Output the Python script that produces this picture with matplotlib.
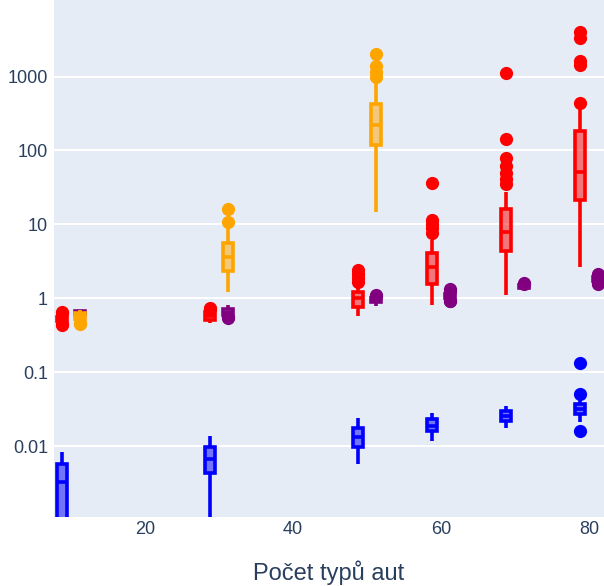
import numpy as np
import matplotlib
matplotlib.use('Agg')
import matplotlib.pyplot as plt
from matplotlib.colors import to_rgba

# skupiny na ose x (pocet typu aut)
skupiny = [10, 30, 50, 60, 70, 80]

# statistiky boxu: (whislo, q1, med, q3, whishi, fliers)
modra = [
    (0.0002, 0.0008, 0.00326, 0.0057, 0.0083, []),
    (0.0005, 0.0043, 0.0067, 0.0097, 0.0137, []),
    (0.0058, 0.0098, 0.0131, 0.0175, 0.0242, []),
    (0.0117, 0.016, 0.0187, 0.0232, 0.0282, []),
    (0.0174, 0.0218, 0.0255, 0.0298, 0.0351, []),
    (0.0213, 0.0271, 0.0314, 0.037, 0.0419, [0.1315, 0.050, 0.0161]),
]
cervena = [
    (0.47, 0.50, 0.53, 0.56, 0.60, [0.66, 0.63, 0.45, 0.43]),
    (0.457, 0.507, 0.575, 0.656, 0.70, [0.72, 0.74]),
    (0.574, 0.76, 1.02, 1.21, 1.45, [2.41, 2.15, 1.9, 1.66]),
    (0.81, 1.56, 2.67, 4.09, 6.1, [35.9, 11.4, 10.0, 8.8, 7.7]),
    (1.1, 4.35, 7.9, 16.1, 27.4, [1105, 141, 78, 62, 50, 41, 35]),
    (2.67, 21.3, 51.5, 183, 375, [4040, 3290, 1600, 1420, 434]),
]
oranzova = [
    (0.49, 0.52, 0.57, 0.63, 0.70, [0.46, 0.45]),
    (1.22, 2.34, 3.65, 5.59, 9.2, [16.1, 10.7]),
    (14.8, 118, 221, 425, 850, [2020, 1390, 1150, 1000]),
]
fialova = [
    (0.58, 0.61, 0.64, 0.67, 0.68, []),
    (0.574, 0.60, 0.63, 0.714, 0.81, [0.56, 0.545]),
    (0.78, 0.88, 0.95, 1.0, 1.03, [1.12, 1.07]),
    (0.95, 1.0, 1.08, 1.15, 1.2, [1.32, 1.25, 0.93, 0.91]),
    (1.28, 1.36, 1.42, 1.5, 1.55, [1.62, 1.58]),
    (1.66, 1.72, 1.82, 1.95, 2.02, [2.15, 2.05, 1.62, 1.58]),
]

yticks = [0.01, 0.1, 1, 10, 100, 1000]
ytick_labels = ['0.01', '0.1', '1', '10', '100', '1000']
xticks = [20, 40, 60, 80]

plt.rcParams['font.family'] = ['Liberation Sans', 'DejaVu Sans']
text_col = '#2a3f5f'

fig = plt.figure(figsize=(6.04, 5.86), dpi=100)
ax = fig.add_axes([54/604, 69/586, 550/604, 517/586])
ax.set_facecolor('#E5ECF6')


def kresli(data, barva, posun, z):
    stats = []
    for lo, q1, med, q3, hi, fl in data:
        stats.append({'whislo': lo, 'q1': q1, 'med': med, 'q3': q3,
                      'whishi': hi, 'fliers': fl})
    pos = [skupiny[i] + posun for i in range(len(data))]
    ax.bxp(stats, positions=pos, widths=1.35, patch_artist=True,
           showcaps=False, manage_ticks=False, zorder=z,
           boxprops=dict(facecolor=to_rgba(barva, 0.5), edgecolor=barva, linewidth=2.6),
           whiskerprops=dict(color=barva, linewidth=2.6, solid_capstyle='butt'),
           medianprops=dict(color=barva, linewidth=2.6),
           flierprops=dict(marker='o', markerfacecolor=barva, markeredgecolor='none',
                           markersize=9.5))


kresli(modra, '#0000FF', -1.2, 3)
kresli(cervena, '#FF0000', -1.2, 4)
kresli(fialova, '#800080', 1.2, 5)
kresli(oranzova, '#FFA500', 1.2, 6)

ax.set_yscale('log')
ax.set_ylim(0.0011, 10840)
ax.set_xlim(7.7, 82.0)
ax.set_yticks(yticks)
ax.set_yticklabels(ytick_labels)
ax.yaxis.set_minor_locator(matplotlib.ticker.NullLocator())
ax.set_xticks(xticks)
ax.set_xticklabels([str(t) for t in xticks])
ax.grid(axis='y', color='white', linewidth=1.5, zorder=0)
ax.set_axisbelow(True)
for s in ax.spines.values():
    s.set_visible(False)
ax.tick_params(axis='both', length=0, labelsize=13, colors=text_col)
ax.tick_params(axis='y', pad=4.3)
ax.tick_params(axis='x', pad=3)

fig.text((54 + 604) / 2 / 604, 6/586, 'Počet typů aut', ha='center', va='baseline',
         fontsize=17, color=text_col)

fig.savefig('out.png', dpi=100)
